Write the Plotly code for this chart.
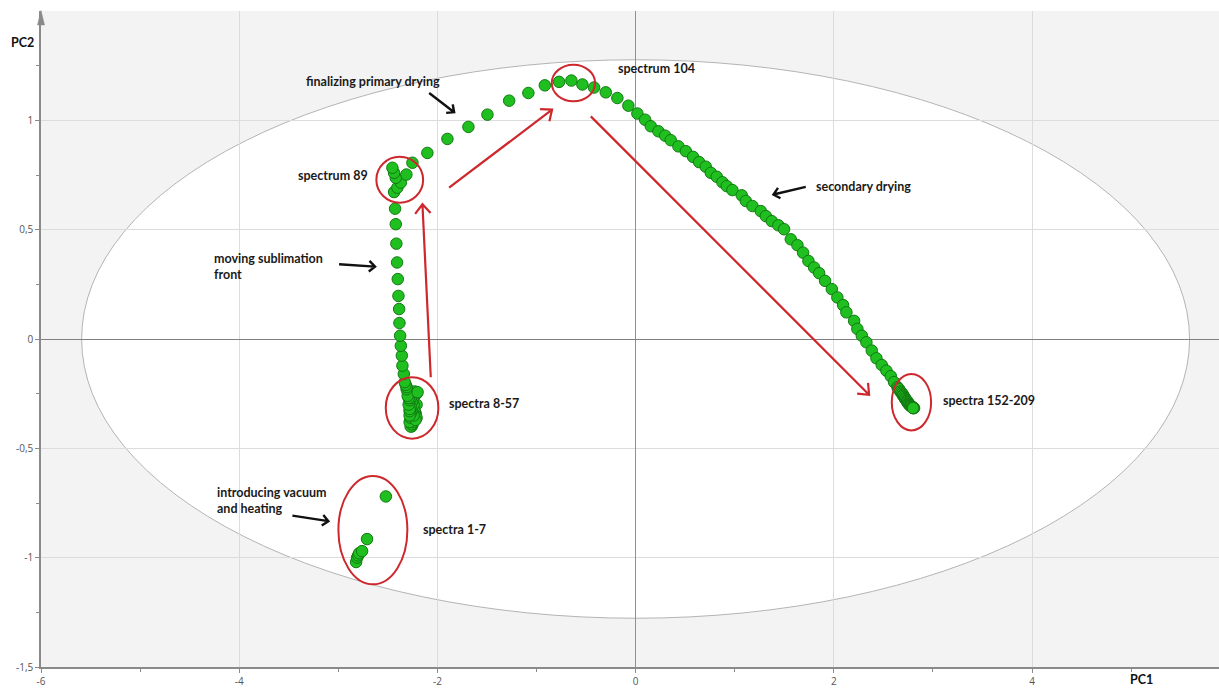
import math
import plotly.graph_objects as go

# ---------------- data ----------------
pc1_spectra_1_7 = [-2.82, -2.81, -2.80, -2.79, -2.76, -2.71, -2.52]
pc2_spectra_1_7 = [-1.02, -1.00, -0.99, -0.98, -0.97, -0.915, -0.72]

pc1_spectra_8_57 = [-2.23, -2.21, -2.21, -2.22, -2.24, -2.25, -2.26, -2.26, -2.27, -2.27,
                    -2.26, -2.25, -2.24, -2.25, -2.26, -2.27, -2.28, -2.27, -2.26, -2.25,
                    -2.24, -2.23, -2.22, -2.21, -2.22, -2.24, -2.26, -2.27, -2.28, -2.28,
                    -2.27, -2.26, -2.25, -2.24, -2.25, -2.26, -2.27, -2.28, -2.29, -2.28,
                    -2.27, -2.28, -2.29, -2.29, -2.30, -2.30, -2.31, -2.31, -2.32, -2.20]
pc2_spectra_8_57 = [-0.24, -0.25, -0.30, -0.34, -0.37, -0.39, -0.40, -0.39, -0.38, -0.40,
                    -0.39, -0.38, -0.36, -0.35, -0.36, -0.37, -0.38, -0.36, -0.34, -0.33,
                    -0.32, -0.33, -0.35, -0.36, -0.37, -0.35, -0.33, -0.34, -0.35, -0.33,
                    -0.31, -0.30, -0.29, -0.30, -0.28, -0.29, -0.31, -0.32, -0.30, -0.28,
                    -0.27, -0.26, -0.27, -0.25, -0.24, -0.26, -0.23, -0.22, -0.21, -0.243]

pc1_sublimation = [-2.33, -2.339, -2.353, -2.359, -2.369, -2.376, -2.383, -2.386, -2.393,
                   -2.400, -2.407, -2.414, -2.420, -2.427, -2.437, -2.404, -2.369, -2.420,
                   -2.437, -2.454, -2.313]
pc2_sublimation = [-0.197, -0.160, -0.122, -0.076, -0.031, 0.015, 0.073, 0.137, 0.197,
                   0.274, 0.350, 0.436, 0.525, 0.596, 0.672, 0.692, 0.715, 0.737,
                   0.760, 0.783, 0.752]

pc1_primary_end = [-2.252, -2.101, -1.899, -1.687, -1.495, -1.276, -1.082, -0.916, -0.772,
                   -0.648, -0.537, -0.419, -0.301, -0.184]
pc2_primary_end = [0.806, 0.851, 0.915, 0.970, 1.026, 1.090, 1.125, 1.160, 1.176,
                   1.182, 1.164, 1.150, 1.128, 1.102]

pc1_secondary = [-0.073, 0.018, 0.096, 0.153, 0.230, 0.298, 0.355, 0.432, 0.507, 0.580,
                 0.641, 0.708, 0.759, 0.819, 0.876, 0.920, 0.977, 1.071, 1.112, 1.179,
                 1.263, 1.314, 1.374, 1.441, 1.498, 1.566, 1.633, 1.690, 1.744, 1.801,
                 1.852, 1.912, 1.980, 2.036, 2.094, 2.127, 2.205, 2.238, 2.283, 2.329,
                 2.383, 2.430, 2.484, 2.531, 2.575, 2.608]
pc2_secondary = [1.067, 1.031, 1.003, 0.973, 0.950, 0.930, 0.909, 0.881, 0.859, 0.833,
                 0.809, 0.788, 0.760, 0.742, 0.717, 0.699, 0.681, 0.657, 0.631, 0.608,
                 0.585, 0.562, 0.539, 0.520, 0.502, 0.456, 0.429, 0.395, 0.357, 0.327,
                 0.301, 0.266, 0.228, 0.190, 0.155, 0.122, 0.083, 0.046, 0.015, -0.015,
                 -0.053, -0.088, -0.119, -0.145, -0.170, -0.197]

pc1_spectra_152_209 = [2.642, 2.65, 2.66, 2.67, 2.68, 2.69, 2.70, 2.70, 2.71, 2.72, 2.72,
                       2.73, 2.74, 2.74, 2.75, 2.75, 2.76, 2.76, 2.77, 2.77, 2.78, 2.78,
                       2.79, 2.79, 2.79, 2.80, 2.80, 2.80, 2.81, 2.80, 2.80]
pc2_spectra_152_209 = [-0.220, -0.225, -0.23, -0.24, -0.245, -0.25, -0.255, -0.26, -0.265,
                       -0.27, -0.275, -0.28, -0.283, -0.288, -0.29, -0.295, -0.297, -0.30,
                       -0.302, -0.305, -0.306, -0.308, -0.31, -0.311, -0.312, -0.313,
                       -0.314, -0.315, -0.316, -0.316, -0.316]

x_tick_vals = [-6, -4, -2, 0, 2, 4]
x_tick_text = ["-6", "-4", "-2", "0", "2", "4"]
y_tick_vals = [-1.5, -1, -0.5, 0, 0.5, 1]
y_tick_text = ["-1,5", "-1", "-0,5", "0", "0,5", "1"]

# ---------------- figure ----------------
W, H = 1219, 688
ML, MR, MT, MB = 41, 0, 11, 19
X_RANGE = [-6, 5.887]
Y_RANGE = [-1.5, 1.5]
SX = (W - ML - MR) / (X_RANGE[1] - X_RANGE[0])
SY = (H - MT - MB) / (Y_RANGE[1] - Y_RANGE[0])

pc1 = (pc1_spectra_1_7 + pc1_spectra_8_57 + pc1_sublimation + pc1_primary_end
       + pc1_secondary + pc1_spectra_152_209)
pc2 = (pc2_spectra_1_7 + pc2_spectra_8_57 + pc2_sublimation + pc2_primary_end
       + pc2_secondary + pc2_spectra_152_209)

fig = go.Figure()
fig.add_trace(go.Scatter(
    x=pc1, y=pc2, mode="markers",
    marker=dict(size=11.5, color="#1fbf1f", line=dict(color="#127a12", width=1)),
    hoverinfo="x+y", showlegend=False, cliponaxis=False,
))

shapes = []
# Hotelling ellipse
shapes.append(dict(type="circle", xref="x", yref="y", x0=-5.59, x1=5.59, y0=-1.277, y1=1.277,
                   fillcolor="white", line=dict(color="#b4b4b4", width=1), layer="below"))

RED = "#cd282d"
# red circles
for (a, b, c, d) in [(-2.616, -2.144, 0.623, 0.833), (-0.846, -0.409, 1.087, 1.254),
                     (-2.521, -1.990, -0.456, -0.175), (-2.999, -2.303, -1.122, -0.626),
                     (2.585, 2.982, -0.418, -0.160)]:
    shapes.append(dict(type="circle", xref="x", yref="y", x0=a, x1=b, y0=c, y1=d,
                       line=dict(color=RED, width=2), layer="above"))


def arrow_path(x0, y0, x1, y1, head_px, half_angle_deg):
    dx = (x1 - x0) * SX
    dy = (y1 - y0) * SY
    L = math.hypot(dx, dy)
    ux, uy = -dx / L, -dy / L
    pts = []
    for s in (1, -1):
        a = math.radians(half_angle_deg) * s
        rx = ux * math.cos(a) - uy * math.sin(a)
        ry = ux * math.sin(a) + uy * math.cos(a)
        pts.append((x1 + rx * head_px / SX, y1 + ry * head_px / SY))
    return (f"M {x0},{y0} L {x1},{y1} M {pts[0][0]},{pts[0][1]} L {x1},{y1} "
            f"L {pts[1][0]},{pts[1][1]}")


for (a, b, c, d) in [(-2.067, -0.175, -2.151, 0.616), (-1.882, 0.692, -0.843, 1.049),
                     (-0.452, 1.018, 2.356, -0.255)]:
    shapes.append(dict(type="path", xref="x", yref="y", path=arrow_path(a, b, c, d, 12, 40),
                       line=dict(color=RED, width=2.2), layer="above"))

for (a, b, c, d) in [(-2.083, 1.125, -1.831, 1.037), (1.717, 0.696, 1.391, 0.661),
                     (-2.992, 0.342, -2.629, 0.331), (-3.463, -0.808, -3.100, -0.833)]:
    shapes.append(dict(type="path", xref="x", yref="y", path=arrow_path(a, b, c, d, 8, 42),
                       line=dict(color="#111111", width=2.4), layer="above"))

# y-axis arrow head
pw, ph = W - ML - MR, H - MT - MB
shapes.append(dict(type="path", xref="paper", yref="paper",
                   path=(f"M {-3.5/pw},{1-14/ph} L 0,{1+0.5/ph} L {3.5/pw},{1-14/ph} Z"),
                   fillcolor="#8a8a8a", line=dict(color="#8a8a8a", width=0.5), layer="above"))

LBL = dict(family="Lato, Open Sans, sans-serif", size=12.5, color="#1a1a1a", weight="bold")
annotations = []
for (x, y, t) in [(-3.345, 1.176, "finalizing primary drying"),
                  (-0.197, 1.236, "spectrum 104"),
                  (-3.426, 0.749, "spectrum 89"),
                  (-4.274, 0.333, "moving sublimation<br>front"),
                  (1.801, 0.698, "secondary drying"),
                  (-1.902, -0.296, "spectra 8-57"),
                  (-4.243, -0.739, "introducing vacuum<br>and heating"),
                  (-2.165, -0.871, "spectra 1-7"),
                  (3.082, -0.283, "spectra 152-209")]:
    annotations.append(dict(x=x, y=y, xref="x", yref="y", text=t, showarrow=False,
                            xanchor="left", yanchor="middle", align="left", font=LBL))

annotations.append(dict(x=(1141 - ML) / pw, y=-(682 - (H - MB)) / ph, xref="paper", yref="paper",
                        text="PC1", showarrow=False, xanchor="center", yanchor="middle",
                        font=dict(family="Lato, sans-serif", size=12.5, color="#111", weight="bold")))
annotations.append(dict(x=(22 - ML) / pw, y=1 - (43 - MT) / ph, xref="paper", yref="paper",
                        text="PC2", showarrow=False, xanchor="center", yanchor="middle",
                        font=dict(family="Lato, sans-serif", size=12.5, color="#111", weight="bold")))

AXC = "#8a8a8a"
TICKF = dict(family="Open Sans, sans-serif", size=10, color="#555")
fig.update_layout(
    width=W, height=H, margin=dict(l=ML, r=MR, t=MT, b=MB, pad=0),
    paper_bgcolor="white", plot_bgcolor="#f3f3f3",
    shapes=shapes, annotations=annotations, showlegend=False,
    xaxis=dict(range=X_RANGE, tickvals=x_tick_vals, ticktext=x_tick_text,
               showgrid=True, gridcolor="#dcdcdc", gridwidth=1,
               zeroline=True, zerolinecolor="#909090", zerolinewidth=1,
               showline=True, linecolor=AXC, linewidth=1.5,
               ticks="outside", ticklen=4, tickcolor=AXC, tickfont=TICKF,
               minor=dict(tickvals=[-5, -3, -1, 1, 3, 5], ticks="outside", ticklen=3,
                          tickcolor=AXC, showgrid=False),
               fixedrange=True),
    yaxis=dict(range=Y_RANGE, tickvals=y_tick_vals, ticktext=y_tick_text,
               showgrid=True, gridcolor="#dcdcdc", gridwidth=1,
               zeroline=True, zerolinecolor="#808080", zerolinewidth=1,
               showline=True, linecolor=AXC, linewidth=1.5,
               ticks="outside", ticklen=4, tickcolor=AXC, tickfont=TICKF,
               minor=dict(tickvals=[-1.25, -0.75, -0.25, 0.25, 0.75, 1.25], ticks="outside",
                          ticklen=3, tickcolor=AXC, showgrid=False),
               fixedrange=True),
)

fig.write_html("out.html")
